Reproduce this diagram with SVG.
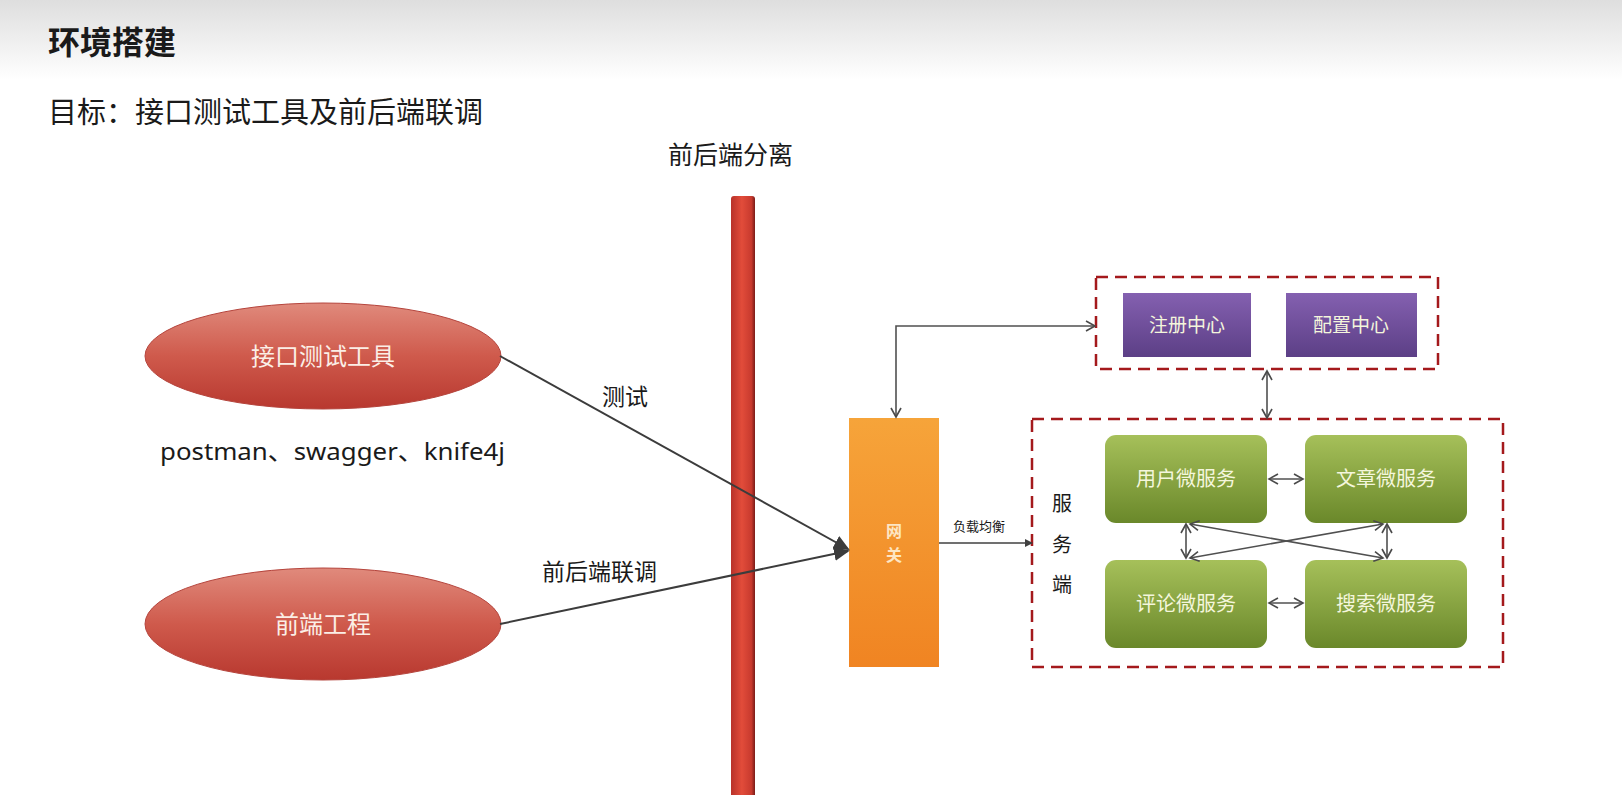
<svg xmlns="http://www.w3.org/2000/svg" width="1622" height="795" viewBox="0 0 1622 795">
<defs>
<linearGradient id="hdr" x1="0" y1="0" x2="0" y2="1"><stop offset="0" stop-color="#dedede"/><stop offset="1" stop-color="#ffffff"/></linearGradient>
<linearGradient id="ell" x1="0" y1="0" x2="0" y2="1"><stop offset="0" stop-color="#e08a7c"/><stop offset="0.5" stop-color="#cf5a4c"/><stop offset="1" stop-color="#b8382f"/></linearGradient>
<linearGradient id="bar" x1="0" y1="0" x2="1" y2="0"><stop offset="0" stop-color="#b8322a"/><stop offset="0.45" stop-color="#e24c3a"/><stop offset="0.85" stop-color="#c83a2e"/><stop offset="1" stop-color="#7a1c18"/></linearGradient>
<linearGradient id="gw" x1="0" y1="0" x2="0" y2="1"><stop offset="0" stop-color="#f6a43a"/><stop offset="1" stop-color="#f08422"/></linearGradient>
<linearGradient id="pur" x1="0" y1="0" x2="0" y2="1"><stop offset="0" stop-color="#8460b0"/><stop offset="1" stop-color="#5c3f86"/></linearGradient>
<linearGradient id="grn" x1="0" y1="0" x2="0" y2="1"><stop offset="0" stop-color="#a6c05a"/><stop offset="1" stop-color="#6a882a"/></linearGradient>
<marker id="tri" markerUnits="userSpaceOnUse" markerWidth="16" markerHeight="14" refX="14" refY="7" orient="auto"><path d="M0,0 L16,7 L0,14 z" fill="#3c3c3c"/></marker>
<marker id="tri2" markerUnits="userSpaceOnUse" markerWidth="8" markerHeight="8" refX="7" refY="4" orient="auto"><path d="M0,0 L8,4 L0,8 z" fill="#404040"/></marker>
<marker id="open" markerUnits="userSpaceOnUse" markerWidth="12" markerHeight="12" refX="10" refY="6" orient="auto-start-reverse"><path d="M1,1 L10,6 L1,11" fill="none" stroke="#4a4a4a" stroke-width="1.6"/></marker>
</defs>
<style>
.cn{font-family:"Noto Sans CJK SC","Liberation Sans",sans-serif}
.blk{fill:#1a1a1a}
.wt{fill:#fbeee6}
.lt{fill:#f4f6dc}
.conn{stroke:#505050;stroke-width:1.6;fill:none}
.dash{fill:none;stroke:#a4191c;stroke-width:2.5;stroke-dasharray:12 7}
</style>
<rect x="0" y="0" width="1622" height="795" fill="#ffffff"/>
<rect x="0" y="0" width="1622" height="80" fill="url(#hdr)"/>
<g id="title"><text class="cn blk" x="48" y="54" font-size="32" font-weight="bold">环境搭建</text></g>
<g id="subtitle"><text class="cn blk" x="48" y="123" font-size="29">目标：接口测试工具及前后端联调</text></g>
<g id="separator">
<text class="cn blk" x="668" y="164" font-size="25">前后端分离</text>
<rect x="731" y="196" width="24" height="610" rx="3" fill="url(#bar)"/>
</g>
<g id="node-tool">
<ellipse cx="323" cy="356" rx="178" ry="53" fill="url(#ell)" stroke="#b5443c" stroke-width="1"/>
<text class="cn wt" x="323" y="365" font-size="24" text-anchor="middle">接口测试工具</text>
<text x="160" y="460" font-size="24" font-family="Noto Sans,&quot;Noto Sans CJK SC&quot;,sans-serif" fill="#1a1a1a" textLength="345" lengthAdjust="spacingAndGlyphs">postman、swagger、knife4j</text>
</g>
<g id="node-frontend">
<ellipse cx="323" cy="624" rx="178" ry="56" fill="url(#ell)" stroke="#b5443c" stroke-width="1"/>
<text class="cn wt" x="323" y="633" font-size="24" text-anchor="middle">前端工程</text>
</g>
<g id="node-gateway">
<rect x="849" y="418" width="90" height="249" fill="url(#gw)"/>
<text class="cn" x="894" y="537" font-size="16" font-weight="bold" fill="#fde6c4" text-anchor="middle">网</text>
<text class="cn" x="894" y="561" font-size="16" font-weight="bold" fill="#fde6c4" text-anchor="middle">关</text>
</g>
<g id="group-registry">
<rect class="dash" x="1096" y="277" width="342" height="92"/>
<g id="node-register"><rect x="1123" y="293" width="128" height="64" fill="url(#pur)"/><text class="cn lt" x="1187" y="332" font-size="19" text-anchor="middle">注册中心</text></g>
<g id="node-config"><rect x="1286" y="293" width="131" height="64" fill="url(#pur)"/><text class="cn lt" x="1351" y="332" font-size="19" text-anchor="middle">配置中心</text></g>
</g>
<g id="group-services">
<rect class="dash" x="1032" y="419" width="471" height="248"/>
<text class="cn blk" x="1062" y="511" font-size="20" text-anchor="middle">服</text>
<text class="cn blk" x="1062" y="552" font-size="20" text-anchor="middle">务</text>
<text class="cn blk" x="1062" y="592" font-size="20" text-anchor="middle">端</text>
<g id="node-user"><rect x="1105" y="435" width="162" height="88" rx="11" fill="url(#grn)"/><text class="cn lt" x="1186" y="486" font-size="20" text-anchor="middle">用户微服务</text></g>
<g id="node-article"><rect x="1305" y="435" width="162" height="88" rx="11" fill="url(#grn)"/><text class="cn lt" x="1386" y="486" font-size="20" text-anchor="middle">文章微服务</text></g>
<g id="node-comment"><rect x="1105" y="560" width="162" height="88" rx="11" fill="url(#grn)"/><text class="cn lt" x="1186" y="611" font-size="20" text-anchor="middle">评论微服务</text></g>
<g id="node-search"><rect x="1305" y="560" width="162" height="88" rx="11" fill="url(#grn)"/><text class="cn lt" x="1386" y="611" font-size="20" text-anchor="middle">搜索微服务</text></g>
</g>
<g id="connectors">
<line x1="500" y1="356" x2="848" y2="549" stroke="#3c3c3c" stroke-width="2" marker-end="url(#tri)"/>
<line x1="500" y1="624" x2="848" y2="551" stroke="#3c3c3c" stroke-width="2" marker-end="url(#tri)"/>
<text class="cn blk" x="602" y="405" font-size="23">测试</text>
<text class="cn blk" x="542" y="580" font-size="23">前后端联调</text>
<line x1="939" y1="543" x2="1032" y2="543" stroke="#404040" stroke-width="1.5" marker-end="url(#tri2)"/>
<text class="cn blk" x="953" y="531" font-size="13" fill="#333">负载均衡</text>
<path class="conn" d="M896,417 V326 H1095" marker-start="url(#open)" marker-end="url(#open)"/>
<path class="conn" d="M1267,371 V418" marker-start="url(#open)" marker-end="url(#open)"/>
<path class="conn" d="M1269,479 H1303" marker-start="url(#open)" marker-end="url(#open)"/>
<path class="conn" d="M1269,603 H1303" marker-start="url(#open)" marker-end="url(#open)"/>
<path class="conn" d="M1186,524 V558" marker-start="url(#open)" marker-end="url(#open)"/>
<path class="conn" d="M1387,524 V558" marker-start="url(#open)" marker-end="url(#open)"/>
<path class="conn" d="M1190,524 L1383,558" marker-start="url(#open)" marker-end="url(#open)"/>
<path class="conn" d="M1383,524 L1190,558" marker-start="url(#open)" marker-end="url(#open)"/>
</g>
</svg>
